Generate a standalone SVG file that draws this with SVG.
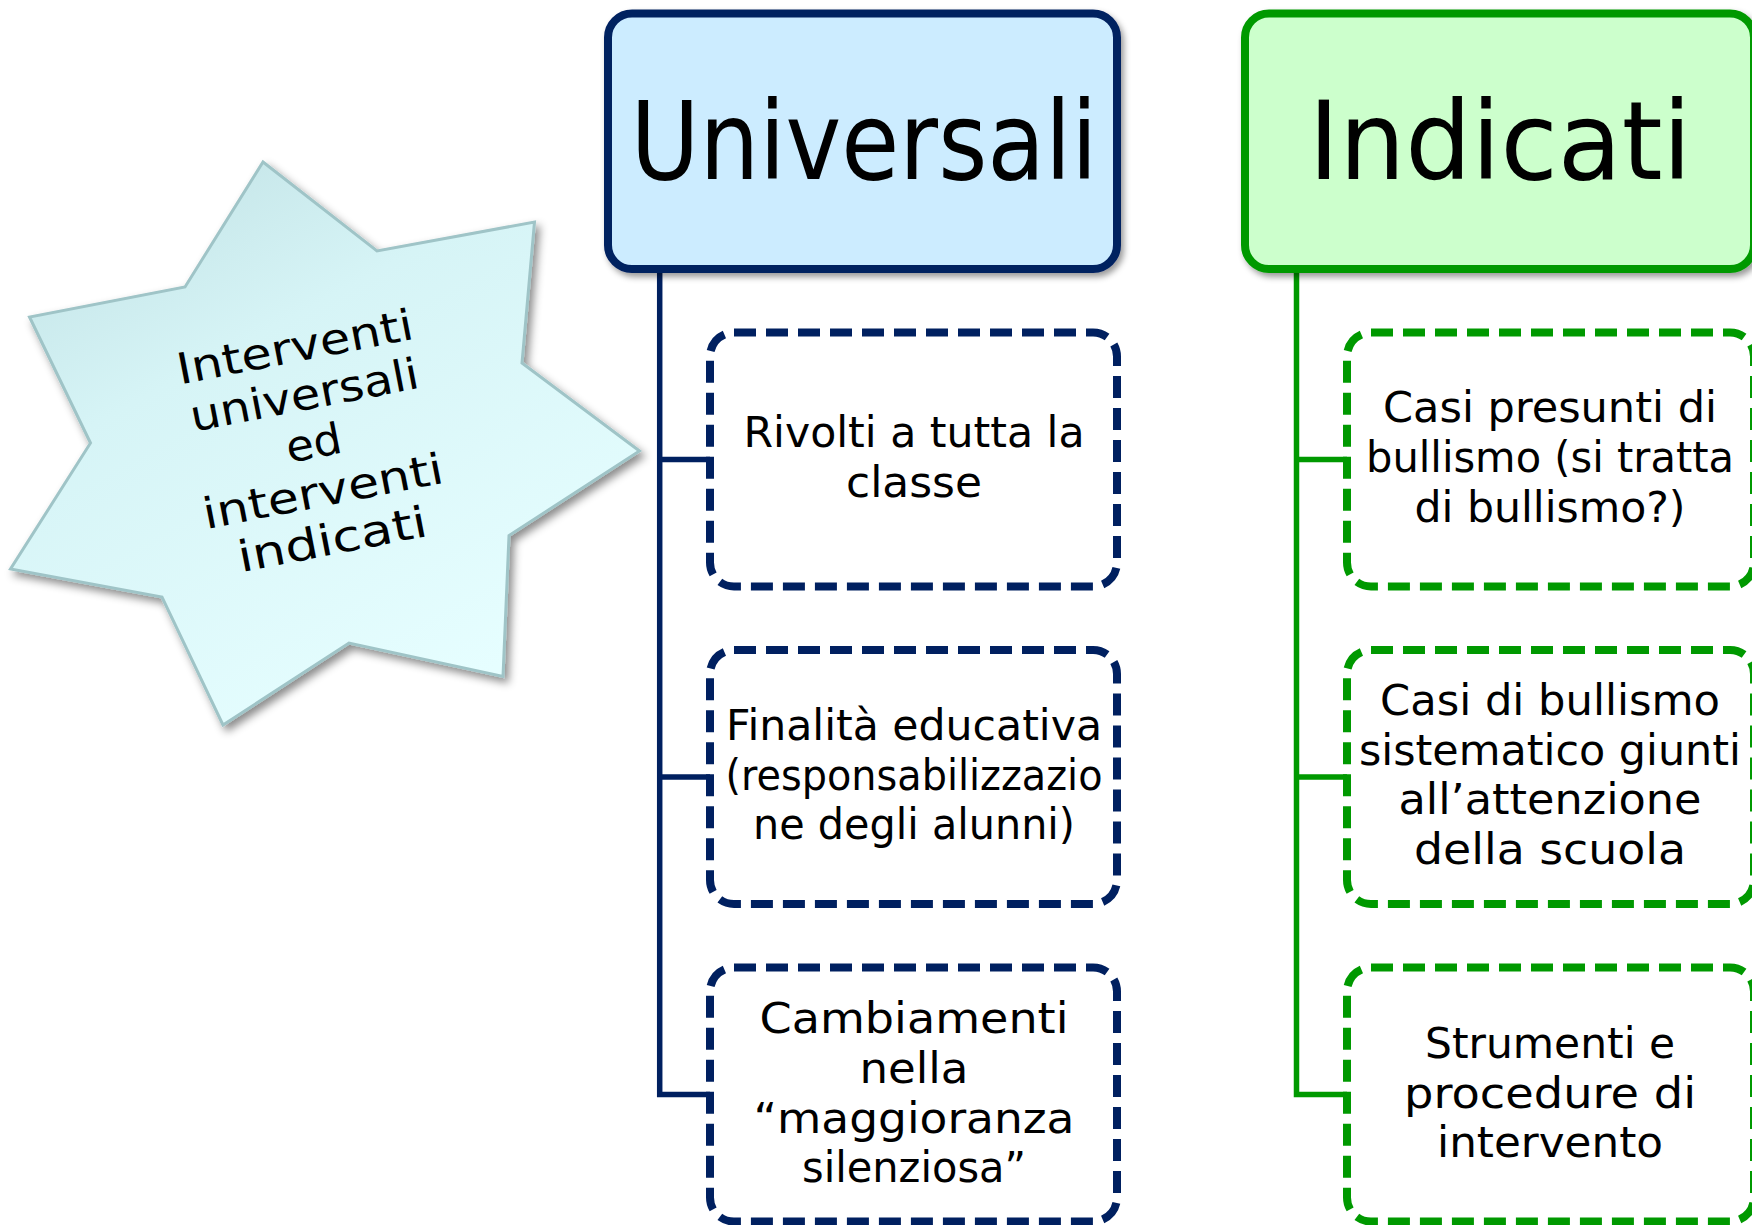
<svg xmlns="http://www.w3.org/2000/svg" width="1752" height="1225" viewBox="0 0 1752 1225">
<defs>
<style>
.title{font-family:"DejaVu Sans",sans-serif;font-size:108px;fill:#000;text-anchor:middle}
.body{font-family:"DejaVu Sans",sans-serif;font-size:42px;fill:#000;text-anchor:middle}
.star{font-family:"DejaVu Sans",sans-serif;font-size:43px;fill:#000;text-anchor:middle}
.hb{stroke:#002060;stroke-width:8;fill:#CCECFF}
.hg{stroke:#009900;stroke-width:8;fill:#CCFFCC}
.cb{stroke:#002060;stroke-width:8;fill:#fff;stroke-dasharray:22 10}
.cg{stroke:#009900;stroke-width:8;fill:#fff;stroke-dasharray:22 10}
.lb{stroke:#002060;stroke-width:5.5;fill:none}
.lg{stroke:#009900;stroke-width:5.5;fill:none}
</style>
<filter id="sh" x="-10%" y="-10%" width="130%" height="130%">
<feDropShadow dx="3" dy="4" stdDeviation="3" flood-color="#000" flood-opacity="0.4"/>
</filter>
<filter id="ssh" x="-10%" y="-10%" width="130%" height="130%">
<feDropShadow dx="4" dy="5" stdDeviation="4" flood-color="#000" flood-opacity="0.45"/>
</filter>
<linearGradient id="sg" x1="0" y1="0" x2="0.6" y2="1">
<stop offset="0" stop-color="#BEDFE2"/>
<stop offset="0.4" stop-color="#D6F4F6"/>
<stop offset="1" stop-color="#E6FEFF"/>
</linearGradient>
</defs>

<g id="connectors">
<path class="lb" d="M659.7 269 V1094.5 H712 M659.7 459.5 H712 M659.7 777 H712"/>
<path class="lg" d="M1296.5 269 V1094.5 H1349 M1296.5 459.5 H1349 M1296.5 777 H1349"/>
</g>

<g id="star">
<polygon points="263,162 377,251 534.5,222 522,363 639.5,451 509,535.5 503,676.5 349,643 223,725 162,597 10.5,569 90.5,443 29.5,317 185,287" fill="url(#sg)" stroke="#9FC4C7" stroke-width="3" stroke-linejoin="miter" filter="url(#ssh)"/>
<g transform="translate(314,445) rotate(-11)">
<text class="star" x="0" y="-85" textLength="240" lengthAdjust="spacingAndGlyphs">Interventi</text>
<text class="star" x="0" y="-36" textLength="232" lengthAdjust="spacingAndGlyphs">universali</text>
<text class="star" x="0" y="13" textLength="56" lengthAdjust="spacingAndGlyphs">ed</text>
<text class="star" x="0" y="62" textLength="244" lengthAdjust="spacingAndGlyphs">interventi</text>
<text class="star" x="0" y="111" textLength="192" lengthAdjust="spacingAndGlyphs">indicati</text>
</g>
</g>

<g id="universali">
<rect class="hb" x="608" y="13.5" width="509" height="255.5" rx="24" filter="url(#sh)"/>
<text class="title" x="864" y="179" textLength="467" lengthAdjust="spacingAndGlyphs">Universali</text>
</g>

<g id="indicati">
<rect class="hg" x="1245" y="13.5" width="509" height="255.5" rx="24" filter="url(#sh)"/>
<text class="title" x="1500" y="179" textLength="383" lengthAdjust="spacingAndGlyphs">Indicati</text>
</g>

<g id="u1">
<rect class="cb" x="710" y="332.5" width="407" height="254" rx="24"/>
<text class="body" x="914" y="447" textLength="341" lengthAdjust="spacingAndGlyphs">Rivolti a tutta la</text>
<text class="body" x="914" y="497" textLength="136" lengthAdjust="spacingAndGlyphs">classe</text>
</g>

<g id="u2">
<rect class="cb" x="710" y="650" width="407" height="254" rx="24"/>
<text class="body" x="914" y="740" textLength="376" lengthAdjust="spacingAndGlyphs">Finalità educativa</text>
<text class="body" x="914" y="790" textLength="377" lengthAdjust="spacingAndGlyphs">(responsabilizzazio</text>
<text class="body" x="914" y="839" textLength="322" lengthAdjust="spacingAndGlyphs">ne degli alunni)</text>
</g>

<g id="u3">
<rect class="cb" x="710" y="967.5" width="407" height="254" rx="24"/>
<text class="body" x="914" y="1033" textLength="309" lengthAdjust="spacingAndGlyphs">Cambiamenti</text>
<text class="body" x="914" y="1083" textLength="109" lengthAdjust="spacingAndGlyphs">nella</text>
<text class="body" x="914" y="1133" textLength="321" lengthAdjust="spacingAndGlyphs">“maggioranza</text>
<text class="body" x="914" y="1182" textLength="224" lengthAdjust="spacingAndGlyphs">silenziosa”</text>
</g>

<g id="i1">
<rect class="cg" x="1347" y="332.5" width="407" height="254" rx="24"/>
<text class="body" x="1550" y="422" textLength="334" lengthAdjust="spacingAndGlyphs">Casi presunti di</text>
<text class="body" x="1550" y="472" textLength="368" lengthAdjust="spacingAndGlyphs">bullismo (si tratta</text>
<text class="body" x="1550" y="522" textLength="271" lengthAdjust="spacingAndGlyphs">di bullismo?)</text>
</g>

<g id="i2">
<rect class="cg" x="1347" y="650" width="407" height="254" rx="24"/>
<text class="body" x="1550" y="715" textLength="340" lengthAdjust="spacingAndGlyphs">Casi di bullismo</text>
<text class="body" x="1550" y="765" textLength="382" lengthAdjust="spacingAndGlyphs">sistematico giunti</text>
<text class="body" x="1550" y="814" textLength="303" lengthAdjust="spacingAndGlyphs">all’attenzione</text>
<text class="body" x="1550" y="864" textLength="272" lengthAdjust="spacingAndGlyphs">della scuola</text>
</g>

<g id="i3">
<rect class="cg" x="1347" y="967.5" width="407" height="254" rx="24"/>
<text class="body" x="1550" y="1058" textLength="250" lengthAdjust="spacingAndGlyphs">Strumenti e</text>
<text class="body" x="1550" y="1108" textLength="292" lengthAdjust="spacingAndGlyphs">procedure di</text>
<text class="body" x="1550" y="1157" textLength="226" lengthAdjust="spacingAndGlyphs">intervento</text>
</g>
</svg>
